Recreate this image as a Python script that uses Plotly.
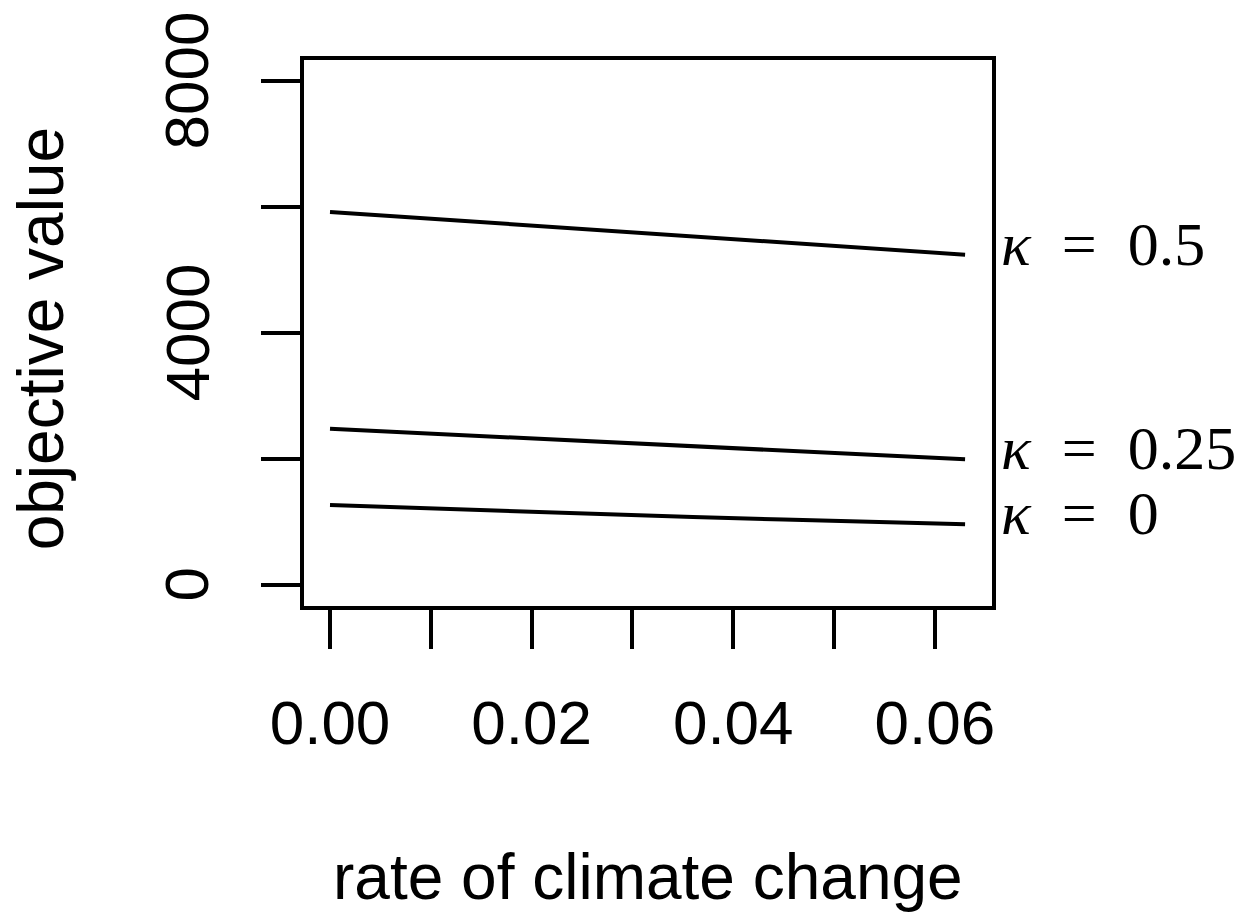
import plotly.graph_objects as go

rate = [0.0, 0.009, 0.018, 0.027, 0.036, 0.045, 0.054, 0.063]
kappa_05 = [5921, 5825, 5728, 5631, 5534, 5437, 5340, 5243]
kappa_025 = [2481, 2412, 2342, 2273, 2203, 2134, 2064, 1995]
kappa_0 = [1270, 1219, 1170, 1123, 1079, 1038, 999, 963]

series = [("κ", "0.5", kappa_05), ("κ", "0.25", kappa_025), ("κ", "0", kappa_0)]

x_tickvals = [0.0, 0.01, 0.02, 0.03, 0.04, 0.05, 0.06]
x_ticktext = ["0.00", "", "0.02", "", "0.04", "", "0.06"]
y_tickvals = [0, 2000, 4000, 6000, 8000]
y_ticktext = ["0", "", "4000", "", "8000"]

fig = go.Figure()
for sym, val, ys in series:
    fig.add_trace(go.Scatter(x=rate, y=ys, mode="lines",
                             line=dict(color="black", width=4),
                             showlegend=False, hoverinfo="skip"))

annotations = []
for sym, val, ys in series:
    annotations.append(dict(
        x=1, xref="paper", y=ys[-1], yref="y",
        text="<i>" + sym + "</i>\u2002=\u2002" + val,
        showarrow=False, xanchor="left", yanchor="middle",
        xshift=7, yshift=11,
        font=dict(family="Liberation Serif", size=62, color="black")))

# rotated y tick labels (R style, centred on the tick)
for v, t in zip(y_tickvals, y_ticktext):
    if t:
        annotations.append(dict(
            x=0, xref="paper", y=v, yref="y", text=t, textangle=-90,
            showarrow=False, xanchor="right", yanchor="middle", xshift=-81,
            font=dict(family="Liberation Sans", size=62, color="black")))

annotations.append(dict(x=0.5, xref="paper", y=-0.496, yref="paper",
                        text="rate of climate change", showarrow=False,
                        xanchor="center", yanchor="middle",
                        font=dict(family="Liberation Sans", size=64, color="black")))
annotations.append(dict(x=-0.381, xref="paper", y=0.49, yref="paper",
                        text="objective value", showarrow=False, textangle=-90,
                        xanchor="center", yanchor="middle",
                        font=dict(family="Liberation Sans", size=64, color="black")))

fig.update_layout(
    width=1249, height=913,
    margin=dict(l=304, r=257, t=60, b=307, autoexpand=False),
    paper_bgcolor="white", plot_bgcolor="white",
    font=dict(family="Liberation Sans", size=62, color="black"),
    annotations=annotations,
    xaxis=dict(range=[-0.00258, 0.06567], tickvals=x_tickvals, ticktext=x_ticktext,
               ticks="outside", ticklen=39, tickwidth=4, tickcolor="black",
               showline=True, linecolor="black", linewidth=4, mirror=True,
               showgrid=False, zeroline=False, ticklabelstandoff=21, automargin=False,
               tickfont=dict(family="Liberation Sans", size=62, color="black")),
    yaxis=dict(range=[-333, 8333], tickvals=y_tickvals, showticklabels=False,
               ticks="outside", ticklen=39, tickwidth=4, tickcolor="black",
               showline=True, linecolor="black", linewidth=4, mirror=True,
               showgrid=False, zeroline=False, automargin=False),
)

fig.write_html("out.html")
